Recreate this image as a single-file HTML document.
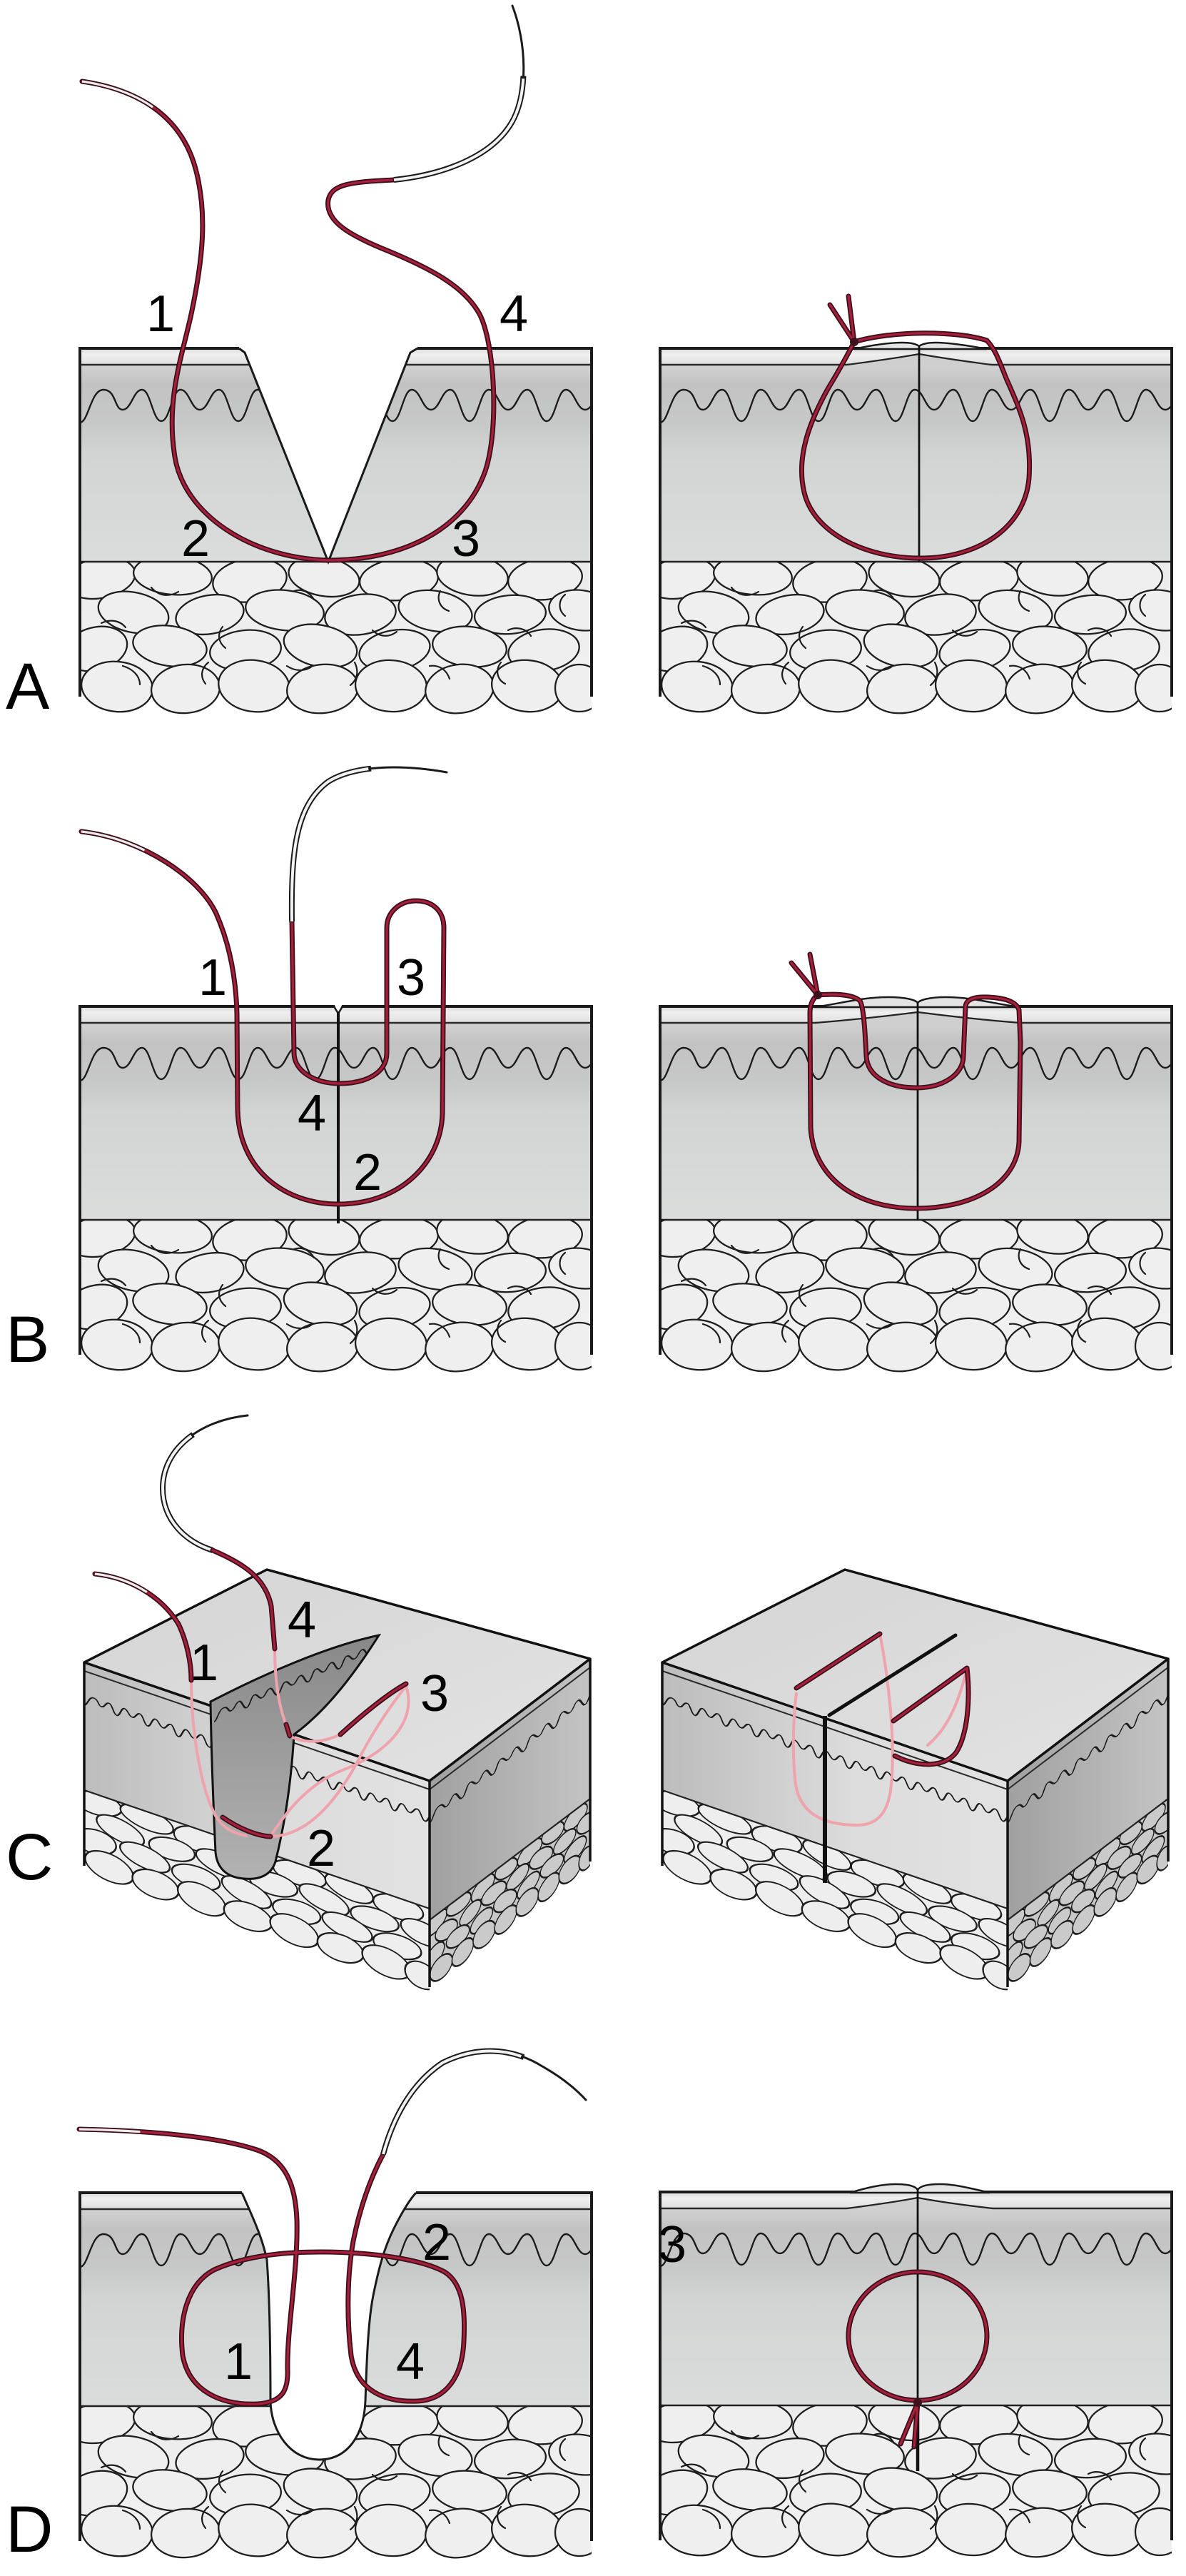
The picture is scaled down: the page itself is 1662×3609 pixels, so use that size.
<!DOCTYPE html>
<html><head><meta charset="utf-8"><style>
html,body{margin:0;padding:0;background:#fff;}
svg{display:block;}
.to{fill:none;stroke:#3c111b;stroke-width:7;stroke-linecap:round;stroke-linejoin:round}
.ti{fill:none;stroke:#a81f3c;stroke-width:3.2;stroke-linecap:round;stroke-linejoin:round}
.tg{fill:none;stroke:#ececec;stroke-width:3.2}
.pk{fill:none;stroke:#eea3ad;stroke-width:4;stroke-linecap:round}
.nt{fill:none;stroke:#1a1a1a;stroke-width:3;stroke-linecap:round}
.no{fill:none;stroke:#1a1a1a;stroke-width:8;stroke-dasharray:72 200}
.ni{fill:none;stroke:#f2f2f2;stroke-width:4;stroke-dasharray:71 200}
text{font-family:"Liberation Sans",Arial,sans-serif;fill:#000;}
.lb{font-size:72px;text-anchor:middle}
.pl{font-size:92px}
</style></head><body>
<svg xmlns="http://www.w3.org/2000/svg" width="1662" height="3609" viewBox="0 0 1662 3609">
<defs>
<linearGradient id="gEpi" x1="0" y1="0" x2="0" y2="1"><stop offset="0" stop-color="#d6d6d6"/><stop offset="0.35" stop-color="#efefef"/><stop offset="1" stop-color="#e0e0e0"/></linearGradient>
<linearGradient id="gDer" x1="0" y1="0" x2="0" y2="1"><stop offset="0" stop-color="#d2d2d2"/><stop offset="0.1" stop-color="#c2c2c2"/><stop offset="0.3" stop-color="#c7c8c8"/><stop offset="0.45" stop-color="#d2d4d3"/><stop offset="1" stop-color="#dbdddc"/></linearGradient>
<linearGradient id="gFat" x1="0" y1="0" x2="0" y2="1"><stop offset="0" stop-color="#ebebeb"/><stop offset="1" stop-color="#f1f1f1"/></linearGradient>
<linearGradient id="gTop" x1="0" y1="0" x2="1" y2="1"><stop offset="0" stop-color="#d4d4d4"/><stop offset="1" stop-color="#e3e3e3"/></linearGradient>
<linearGradient id="gLF" x1="0" y1="0" x2="1" y2="0"><stop offset="0" stop-color="#bcbcbc"/><stop offset="0.55" stop-color="#dcdcdc"/><stop offset="1" stop-color="#e2e2e2"/></linearGradient>
<linearGradient id="gRF" x1="0" y1="0" x2="1" y2="0"><stop offset="0" stop-color="#a0a0a0"/><stop offset="1" stop-color="#c4c4c4"/></linearGradient>
<linearGradient id="gW" x1="0" y1="0" x2="0" y2="1"><stop offset="0" stop-color="#888888"/><stop offset="1" stop-color="#b2b2b2"/></linearGradient>

<clipPath id="cBlk"><rect x="0" y="0" width="717" height="299"/></clipPath>
<clipPath id="cFat"><rect x="0" y="299" width="717" height="260"/></clipPath>
<clipPath id="cCLF"><polygon points="118,2329 602,2495 602,2700 118,2530"/></clipPath>
<clipPath id="cCRF"><polygon points="602,2495 827,2324 827,2530 602,2700"/></clipPath>
<clipPath id="cCLFf"><polygon points="118,2508 602,2674 602,2900 118,2900"/></clipPath>
<clipPath id="cCRFf"><polygon points="602,2690 827,2520 827,2900 602,2900"/></clipPath>
<clipPath id="cW"><path d="M295,2384 C370,2345 460,2306 531,2291 C500,2340 460,2395 412,2430 C408,2500 398,2560 386,2608 C380,2628 362,2634 342,2632 C316,2630 304,2616 302,2595 C299,2530 296,2450 295,2384 Z"/></clipPath>

<path id="wave" d="M0,104 c12,0 15,-46 33,-46 s15,28 27,28 s15,-28 27,-28 s15,44 27,44 s15,-44 27,-44 s15,28 27,28 s15,-28 27,-28 s15,44 27,44 s15,-44 27,-44 s15,28 27,28 s15,-28 27,-28 s15,44 27,44 s15,-44 27,-44 s15,28 27,28 s15,-28 27,-28 s15,44 27,44 s15,-44 27,-44 s15,28 27,28 s15,-28 27,-28 s15,44 27,44 s15,-44 27,-44 s15,28 27,28 s15,-28 27,-28 s15,44 27,44 s15,-44 27,-44 s15,28 27,28 s15,-28 27,-28 s15,44 27,44 s15,-44 27,-44 s15,28 27,28 s15,-28 27,-28 s15,44 27,44 s15,-44 27,-44 s15,28 27,28 s15,-28 27,-28 s15,44 27,44 s15,-44 27,-44 s15,28 27,28 s15,-28 27,-28 s15,44 27,44 s15,-44 27,-44 s15,28 27,28 s15,-28 27,-28 s15,44 27,44 s15,-44 27,-44 s15,28 27,28 s15,-28 27,-28 s15,44 27,44 s15,-44 27,-44 s15,28 27,28 s15,-28 27,-28 s15,44 27,44 s15,-44 27,-44"/>

<g id="fat">
<ellipse cx="28" cy="322" rx="50" ry="28" transform="rotate(-10 28 322)"/>
<ellipse cx="130" cy="318" rx="55" ry="27" transform="rotate(5 130 318)"/>
<ellipse cx="238" cy="325" rx="52" ry="30" transform="rotate(-8 238 325)"/>
<ellipse cx="342" cy="320" rx="50" ry="27" transform="rotate(10 342 320)"/>
<ellipse cx="447" cy="324" rx="55" ry="29" transform="rotate(-5 447 324)"/>
<ellipse cx="550" cy="318" rx="50" ry="28" transform="rotate(8 550 318)"/>
<ellipse cx="652" cy="323" rx="52" ry="29" transform="rotate(-6 652 323)"/>
<ellipse cx="75" cy="370" rx="50" ry="28" transform="rotate(12 75 370)"/>
<ellipse cx="182" cy="373" rx="48" ry="27" transform="rotate(-10 182 373)"/>
<ellipse cx="287" cy="367" rx="55" ry="28" transform="rotate(6 287 367)"/>
<ellipse cx="393" cy="373" rx="50" ry="28" transform="rotate(-8 393 373)"/>
<ellipse cx="498" cy="368" rx="52" ry="28" transform="rotate(10 498 368)"/>
<ellipse cx="603" cy="373" rx="50" ry="27" transform="rotate(-5 603 373)"/>
<ellipse cx="702" cy="367" rx="45" ry="28" transform="rotate(8 702 367)"/>
<ellipse cx="22" cy="421" rx="45" ry="30" transform="rotate(-15 22 421)"/>
<ellipse cx="126" cy="417" rx="52" ry="28" transform="rotate(8 126 417)"/>
<ellipse cx="232" cy="423" rx="50" ry="28" transform="rotate(-6 232 423)"/>
<ellipse cx="337" cy="417" rx="52" ry="29" transform="rotate(12 337 417)"/>
<ellipse cx="441" cy="423" rx="50" ry="28" transform="rotate(-10 441 423)"/>
<ellipse cx="546" cy="418" rx="52" ry="28" transform="rotate(6 546 418)"/>
<ellipse cx="650" cy="423" rx="50" ry="29" transform="rotate(-8 650 423)"/>
<ellipse cx="52" cy="474" rx="50" ry="35" transform="rotate(6 52 474)"/>
<ellipse cx="148" cy="477" rx="48" ry="34" transform="rotate(-5 148 477)"/>
<ellipse cx="244" cy="473" rx="50" ry="36" transform="rotate(8 244 473)"/>
<ellipse cx="340" cy="477" rx="50" ry="34" transform="rotate(-6 340 477)"/>
<ellipse cx="436" cy="473" rx="50" ry="36" transform="rotate(4 436 473)"/>
<ellipse cx="532" cy="477" rx="48" ry="34" transform="rotate(-8 532 477)"/>
<ellipse cx="627" cy="473" rx="50" ry="36" transform="rotate(6 627 473)"/>
<ellipse cx="700" cy="476" rx="34" ry="33"/>
</g>

<path id="fatl" d="M100,335 c10,12 25,14 38,6 M200,390 c-8,10 -6,22 4,30 M300,340 c12,-4 22,2 28,12 M410,395 c10,10 24,10 34,2 M505,340 c-6,12 0,24 12,28 M600,395 c12,-6 26,-2 32,8 M60,445 c14,4 24,14 24,26 M180,440 c-10,8 -12,20 -4,30 M290,445 c12,8 26,8 36,0 M385,440 c6,12 4,24 -6,32 M490,445 c14,-2 24,6 28,18 M590,440 c-8,10 -6,24 6,30 M680,345 c-10,8 -10,22 0,30 M30,385 c12,-6 26,-4 34,6"/>

<g id="blk">
<rect x="0" y="0" width="717" height="23" fill="url(#gEpi)"/>
<rect x="0" y="23" width="717" height="276" fill="url(#gDer)"/>
<rect x="0" y="299" width="717" height="183" fill="url(#gFat)"/>
<use href="#wave" clip-path="url(#cBlk)" fill="none" stroke="#1c1c1c" stroke-width="2.4"/>
<line x1="0" y1="23" x2="717" y2="23" stroke="#2a2a2a" stroke-width="2.5"/>
<g clip-path="url(#cFat)" fill="#efefef" stroke="#1e1e1e" stroke-width="2.3"><use href="#fat"/></g>
<use href="#fatl" clip-path="url(#cFat)" fill="none" stroke="#1e1e1e" stroke-width="2.2" stroke-linecap="round"/>
<line x1="0" y1="299" x2="717" y2="299" stroke="#222" stroke-width="2.5"/>
<path d="M0,488 V0 H717 V488" fill="none" stroke="#1a1a1a" stroke-width="4"/>
</g>

<g id="cblk">
<polygon points="118,2329 374,2199 827,2324 602,2495" fill="url(#gTop)"/>
<polygon points="118,2329 602,2495 602,2700 118,2530" fill="url(#gLF)"/>
<polygon points="602,2495 827,2324 827,2530 602,2700" fill="url(#gRF)"/>
<polygon points="118,2508 602,2674 602,2770 118,2604" fill="#ededed"/>
<polygon points="602,2690 827,2520 827,2595 602,2765" fill="#c8c8c8"/>
<path d="M118,2341 L602,2507 L827,2336" fill="none" stroke="#2a2a2a" stroke-width="2"/>
<g clip-path="url(#cCLF)"><use href="#wave" transform="matrix(0.4,0.1372,0,0.3,118,2357)" fill="none" stroke="#1c1c1c" stroke-width="5.5"/></g>
<g clip-path="url(#cCRF)"><use href="#wave" transform="matrix(0.4,-0.304,0,0.3,602,2523)" fill="none" stroke="#1c1c1c" stroke-width="5.5"/></g>
<g clip-path="url(#cCLFf)" fill="#eeeeee" stroke="#1e1e1e" stroke-width="3.6"><use href="#fat" transform="matrix(0.675,0.2315,0,0.55,118,2343.55)"/></g>
<g clip-path="url(#cCRFf)" fill="#cacaca" stroke="#1e1e1e" stroke-width="5"><use href="#fat" transform="matrix(0.314,-0.2374,0,0.45,602,2555.45)"/></g>
<path d="M118,2508 L602,2674 M602,2690 L827,2520" stroke="#222" stroke-width="2.2" fill="none"/>
<polygon points="118,2329 374,2199 827,2324 602,2495" fill="none" stroke="#111" stroke-width="3.5" stroke-linejoin="round"/>
<path d="M118,2329 V2614 M602,2495 V2784 M827,2324 V2608" stroke="#111" stroke-width="3.5" fill="none"/>
</g>

<!-- threads -->
<path id="sA" pathLength="100" d="M115,114 C190,125 255,160 275,240 C290,300 285,360 268,440 C255,500 232,560 245,640 C258,720 350,782 460,785 C560,785 650,745 680,660 C700,600 693,480 672,440 C650,400 600,375 545,352 C490,330 455,310 460,280 C465,258 490,255 552,252"/>
<path id="nA" pathLength="100" d="M552,252 C620,245 690,220 718,170 C740,130 738,60 718,8"/>
<path id="sAR" d="M1197,479 C1250,463 1340,463 1383,477 C1395,490 1400,505 1410,530 C1430,575 1446,610 1442,670 C1436,740 1370,782 1290,782 C1210,782 1140,745 1127,690 C1115,640 1135,590 1160,545 C1175,520 1188,497 1197,479 Z"/>
<path id="kA" d="M1197,479 L1163,427 M1197,479 L1189,415"/>
<path id="sB" pathLength="100" d="M114,1165 C200,1175 280,1230 303,1280 C325,1330 331,1380 332,1420 L333,1555 C335,1640 400,1687 474,1687 C560,1687 618,1630 620,1560 L622,1300 C622,1275 605,1262 583,1262 C560,1262 542,1278 542,1300 L542,1475 C542,1505 510,1518 476,1518 C440,1518 412,1500 412,1475 L409,1291"/>
<path id="nB" pathLength="100" d="M409,1291 C408,1200 412,1130 460,1095 C500,1070 570,1072 626,1082"/>
<path id="sBR" d="M1146,1394 C1170,1392 1195,1393 1205,1402 C1210,1410 1212,1440 1214,1480 C1216,1510 1248,1524 1284,1524 C1322,1524 1350,1505 1350,1480 L1353,1410 C1354,1400 1365,1396 1385,1397 C1405,1398 1424,1402 1428,1415 L1430,1460 L1428,1600 C1425,1660 1360,1693 1284,1693 C1200,1693 1140,1650 1136,1580 L1135,1420 C1135,1405 1140,1398 1146,1394 Z"/>
<path id="kB" d="M1146,1394 L1109,1349 M1146,1394 L1135,1337"/>
<path id="sC1" pathLength="100" d="M133,2205 C180,2210 225,2235 250,2275 C262,2300 268,2330 268,2354"/>
<path id="nC" pathLength="100" d="M298,2172 C260,2160 228,2130 228,2085 C228,2030 280,1990 347,1983"/>
<path id="sC4" d="M298,2172 C340,2190 372,2210 380,2250 L385,2310"/>
<path id="sCr" d="M401,2416 L406,2432 M312,2546 C335,2562 360,2572 379,2573 M477,2430 C510,2400 545,2372 569,2359"/>
<path id="sCR" d="M1116,2365 L1233,2289 M1252,2411 L1355,2337 M1355,2337 C1360,2380 1356,2430 1340,2455 C1325,2475 1290,2478 1254,2460"/>
<path id="sD" pathLength="100" d="M111,2983 C200,2985 300,2992 360,3012 C400,3026 414,3060 416,3110 C418,3180 402,3260 403,3320 C404,3350 395,3366 360,3368 C310,3370 265,3350 256,3300 C250,3250 262,3200 300,3180 C340,3162 390,3155 450,3155 C520,3155 590,3165 623,3183 C650,3200 652,3240 650,3280 C648,3330 625,3362 585,3364 C540,3366 500,3350 492,3300 C486,3250 486,3190 495,3140 C505,3090 520,3050 537,3018"/>
<path id="nD" pathLength="100" d="M537,3018 C550,2970 575,2920 620,2890 C670,2865 720,2870 760,2895 C790,2912 810,2930 821,2942"/>
<path id="sDR" d="M1286,3183 A97,90 0 1 1 1285.9,3183 Z"/>
<path id="kD" d="M1286,3366 L1262,3424 M1286,3366 L1281,3428"/>
</defs>

<rect x="0" y="0" width="1662" height="3609" fill="#fff"/>

<!-- ===== PANEL A ===== -->
<use href="#blk" x="112" y="488"/>
<g transform="translate(112,488)">
<path d="M223,-4 L223,0 L231,6 L348,299 L463,6 L473,0 L473,-4 Z" fill="#fff"/>
<path d="M223,0 L231,6 L348,299 L463,6 L473,0" fill="none" stroke="#1a1a1a" stroke-width="3"/>
</g>
<use href="#blk" x="925" y="488"/>
<g transform="translate(925,488)">
<path d="M272,1 C295,-4 320,-8 340,-8 C352,-8 359,-6 363,-3 C367,-6 374,-8 386,-8 C406,-8 431,-4 458,1 Z" fill="#e4e4e4" stroke="#1a1a1a" stroke-width="2.5"/>
<path d="M262,23 C300,18 340,12 363,8 C386,12 426,18 464,23 L464,26 L262,26 Z" fill="#cfcfcf"/>
<path d="M262,23 C300,18 340,12 363,8 C386,12 426,18 464,23" fill="none" stroke="#222" stroke-width="2.2"/>
<line x1="363" y1="-3" x2="363" y2="300" stroke="#111" stroke-width="2.8"/>
</g>
<use href="#sA" class="to"/><use href="#sA" class="ti"/><use href="#sA" class="tg" style="stroke-dasharray:6 300"/>
<use href="#nA" class="nt"/><use href="#nA" class="no"/><use href="#nA" class="ni"/>
<use href="#sAR" class="to"/><use href="#sAR" class="ti"/>
<use href="#kA" class="to"/><use href="#kA" class="ti"/>
<circle cx="1197" cy="479" r="6" fill="#3c111b"/>
<text class="lb" x="225" y="464">1</text>
<text class="lb" x="720" y="464">4</text>
<text class="lb" x="274" y="779">2</text>
<text class="lb" x="653" y="779">3</text>
<text class="pl" x="8" y="993">A</text>

<!-- ===== PANEL B ===== -->
<use href="#blk" x="112" y="1410"/>
<g transform="translate(112,1410)">
<path d="M356,-4 L362,10 L368,-4 Z" fill="#fff"/>
<path d="M356,0 L362,10 L368,0" fill="none" stroke="#1a1a1a" stroke-width="2.5"/>
<line x1="362" y1="8" x2="362" y2="304" stroke="#111" stroke-width="4"/>
</g>
<use href="#blk" x="925" y="1410"/>
<g transform="translate(925,1410)">
<path d="M215,1 C250,-3 280,-13 320,-13 C345,-13 358,-9 361,-5 C364,-9 377,-13 400,-13 C440,-13 470,-3 505,1 Z" fill="#e4e4e4" stroke="#1a1a1a" stroke-width="2.5"/>
<path d="M218,23 C280,18 330,12 361,8 C392,12 442,18 504,23 L504,26 L218,26 Z" fill="#cfcfcf"/>
<path d="M218,23 C280,18 330,12 361,8 C392,12 442,18 504,23" fill="none" stroke="#222" stroke-width="2.2"/>
<line x1="361" y1="-5" x2="361" y2="300" stroke="#111" stroke-width="2.8"/>
</g>
<use href="#sB" class="to"/><use href="#sB" class="ti"/><use href="#sB" class="tg" style="stroke-dasharray:5 300"/>
<use href="#nB" class="nt"/><use href="#nB" class="no"/><use href="#nB" class="ni"/>
<use href="#sBR" class="to"/><use href="#sBR" class="ti"/>
<use href="#kB" class="to"/><use href="#kB" class="ti"/>
<circle cx="1146" cy="1394" r="6" fill="#3c111b"/>
<text class="lb" x="298" y="1394">1</text>
<text class="lb" x="576" y="1394">3</text>
<text class="lb" x="437" y="1584">4</text>
<text class="lb" x="515" y="1667">2</text>
<text class="pl" x="8" y="1908">B</text>

<!-- ===== PANEL C ===== -->
<use href="#cblk"/>
<path d="M295,2384 C370,2345 460,2306 531,2291 C500,2340 460,2395 412,2430 C408,2500 398,2560 386,2608 C380,2628 362,2634 342,2632 C316,2630 304,2616 302,2595 C299,2530 296,2450 295,2384 Z" fill="url(#gW)"/>
<g clip-path="url(#cW)"><use href="#wave" transform="matrix(0.4,-0.168,0,0.3,300,2381)" fill="none" stroke="#1c1c1c" stroke-width="5.5"/></g>
<path d="M295,2384 C370,2345 460,2306 531,2291 C500,2340 460,2395 412,2430 C408,2500 398,2560 386,2608 C380,2628 362,2634 342,2632 C316,2630 304,2616 302,2595 C299,2530 296,2450 295,2384 Z" fill="none" stroke="#111" stroke-width="3"/>
<path d="M268,2354 C268,2420 280,2500 300,2540 C310,2560 325,2568 345,2572" class="pk"/>
<path d="M385,2310 C385,2350 390,2390 401,2416" class="pk"/>
<path d="M406,2432 C430,2445 455,2440 477,2430" class="pk"/>
<path d="M379,2573 C430,2572 470,2525 500,2470 C525,2420 555,2380 569,2362" class="pk"/>
<path d="M569,2362 C585,2410 545,2455 480,2480 C430,2500 400,2540 379,2573" class="pk"/>
<use href="#sC1" class="to"/><use href="#sC1" class="ti"/><use href="#sC1" class="tg" style="stroke-dasharray:35 300"/>
<use href="#nC" class="nt"/><use href="#nC" class="no"/><use href="#nC" class="ni"/>
<use href="#sC4" class="to"/><use href="#sC4" class="ti"/>
<use href="#sCr" class="to"/><use href="#sCr" class="ti"/>

<use href="#cblk" x="810"/>
<path d="M1233,2289 C1245,2350 1255,2440 1249,2500 C1245,2545 1225,2557 1201,2557 C1160,2557 1118,2545 1114,2492 C1110,2450 1112,2400 1116,2373" class="pk"/>
<path d="M1355,2337 C1345,2380 1330,2420 1300,2445" class="pk"/>
<line x1="1162" y1="2403" x2="1339" y2="2291" stroke="#111" stroke-width="5" stroke-linecap="round"/>
<line x1="1156" y1="2404" x2="1156" y2="2638" stroke="#111" stroke-width="6"/>
<use href="#sCR" class="to"/><use href="#sCR" class="ti"/>
<text class="lb" x="286" y="2354">1</text>
<text class="lb" x="423" y="2294">4</text>
<text class="lb" x="609" y="2397">3</text>
<text class="lb" x="450" y="2614">2</text>
<text class="pl" x="8" y="2633">C</text>

<!-- ===== PANEL D ===== -->
<use href="#blk" x="112" y="3072"/>
<g transform="translate(112,3072)">
<path d="M227,-4 L227,0 C240,30 255,60 262,94 C266,150 267,230 267,292 C268,335 295,374 335,374 C375,374 398,340 400,292 C402,230 404,180 411,144 C418,110 425,80 440,50 C450,30 460,12 471,0 L471,-4 Z" fill="#fff"/>
<path d="M227,0 C240,30 255,60 262,94 C266,150 267,230 267,292 C268,335 295,374 335,374 C375,374 398,340 400,292 C402,230 404,180 411,144 C418,110 425,80 440,50 C450,30 460,12 471,0" fill="none" stroke="#1a1a1a" stroke-width="3"/>
</g>
<use href="#blk" x="925" y="3071"/>
<g transform="translate(925,3071)">
<path d="M266,1 C290,-6 310,-11 330,-11 C348,-11 358,-8 361,-3 C364,-8 374,-11 392,-11 C412,-11 432,-6 462,1 Z" fill="#e4e4e4" stroke="#1a1a1a" stroke-width="2.5"/>
<path d="M262,23 C300,18 340,12 361,8 C382,12 422,18 466,23 L466,26 L262,26 Z" fill="#cfcfcf"/>
<path d="M262,23 C300,18 340,12 361,8 C382,12 422,18 466,23" fill="none" stroke="#222" stroke-width="2.2"/>
<line x1="361" y1="-3" x2="361" y2="300" stroke="#111" stroke-width="2.8"/>
<line x1="361" y1="296" x2="361" y2="391" stroke="#111" stroke-width="4.5"/>
</g>
<use href="#sD" class="to"/><use href="#sD" class="ti"/><use href="#sD" class="tg" style="stroke-dasharray:4.5 300"/>
<use href="#nD" class="nt"/><use href="#nD" class="no"/><use href="#nD" class="ni"/>
<use href="#sDR" class="to"/><use href="#sDR" class="ti"/>
<use href="#kD" class="to"/><use href="#kD" class="ti"/>
<circle cx="1286" cy="3366" r="6" fill="#3c111b"/>
<text class="lb" x="334" y="3333">1</text>
<text class="lb" x="575" y="3333">4</text>
<text class="lb" x="612" y="3166">2</text>
<text class="lb" x="942" y="3169">3</text>
<text class="pl" x="8" y="3575">D</text>
</svg>
</body></html>
